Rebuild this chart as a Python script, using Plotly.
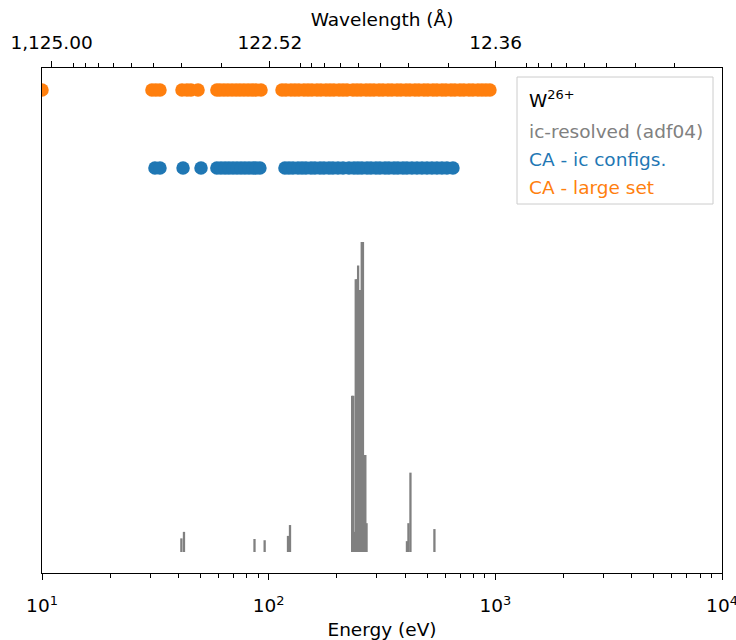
import plotly.graph_objects as go

# ---------------- data ----------------
HC = 12398.4  # eV * Angstrom

# ic-resolved (adf04) line strengths (arbitrary units, normalised)
bar_energy = [41.2, 42.3, 86.6, 96.0, 121.7, 124.2,
              233.5, 236.3, 239.2, 242.2, 245.1, 248.1, 251.2, 254.3, 257.4, 260.6,
              263.8, 267.0, 270.3,
              407.4, 413.7, 422.2, 538.6]
bar_height = [0.044, 0.065, 0.042, 0.038, 0.052, 0.087,
              0.504, 0.504, 0.065, 0.880, 0.880, 0.924, 0.845, 0.845, 1.000, 1.000,
              0.313, 0.313, 0.093,
              0.035, 0.093, 0.256, 0.074]

# CA - ic configs. (transition energies, eV)
ca_ic_energy = [31.5, 33.15, 41.9, 50.3,
                59.1, 61.6, 64.2, 66.8, 69.6, 72.5, 75.5, 78.6, 81.9, 85.3, 87.9, 91.5,
                118.0, 122.9, 128.0, 134.7, 140.3, 146.0, 153.7, 160.0, 168.4, 175.4,
                184.5, 192.1, 202.2, 212.8, 226.1, 237.9, 247.7, 257.9, 271.5, 282.7,
                297.4, 309.7, 326.0, 339.4, 357.1, 371.9, 391.2, 407.4, 428.7, 451.1,
                474.6, 499.4, 525.3, 552.5, 581.3, 611.5, 650.2]
ca_ic_level = 1.239

# CA - large set (transition energies, eV)
ca_large_energy = [10.0, 30.55, 31.8, 33.15, 41.45, 43.6, 45.4, 48.8,
                   59.1, 61.0, 63.5, 66.1, 68.9, 71.8, 74.7, 77.8, 81.1, 84.4, 87.9, 92.5,
                   114.5, 119.2, 125.4, 130.6, 136.0, 143.1, 149.1, 155.2, 163.3, 170.1,
                   178.9, 186.4, 194.1, 204.3, 212.8, 221.6, 235.5, 245.3, 255.5, 268.8,
                   279.9, 291.5, 306.7, 319.4, 336.0, 349.9, 368.2, 383.4, 403.4, 420.1,
                   441.9, 460.3, 484.2, 504.3, 530.5, 552.5, 581.3, 605.3, 637.0, 663.3,
                   698.1, 726.8, 764.9, 796.5, 838.0, 872.8, 908.8, 946.7]
ca_large_level = 1.490

# axis ticks
energy_ticks = [10, 100, 1000, 10000]
energy_labels = ["10<sup>1</sup>", "10<sup>2</sup>", "10<sup>3</sup>", "10<sup>4</sup>"]
wavelength_major = [1125.00, 122.52, 12.36]
wavelength_labels = ["1,125.00", "122.52", "12.36"]
minor_mult = [2, 3, 4, 5, 6, 7, 8, 9]
decades = [1, 10, 100, 1000]

legend_title = "W<sup>26+</sup>"
legend_labels = ["ic-resolved (adf04)", "CA - ic configs.", "CA - large set"]

# ---------------- styling ----------------
GREY = "#808080"
BLUE = "#1f77b4"
ORANGE = "#ff7f0e"
FONT = "DejaVu Sans"
FS = 18.5

W, H = 736, 640
L, R, T, B = 42, 722, 68, 573

def px_x(px):
    return (px - L) / (R - L)

def px_y(py):
    return (B - py) / (B - T)

# ---------------- figure ----------------
fig = go.Figure()

bx, by = [], []
for e, h in zip(bar_energy, bar_height):
    bx += [e, e, None]
    by += [0, h, None]
fig.add_trace(go.Scatter(x=bx, y=by, mode="lines",
                         line=dict(color=GREY, width=2.3), showlegend=False,
                         hoverinfo="skip"))

fig.add_trace(go.Scatter(x=ca_ic_energy, y=[ca_ic_level] * len(ca_ic_energy),
                         mode="markers", marker=dict(color=BLUE, size=13.5, line=dict(width=0)),
                         showlegend=False))
fig.add_trace(go.Scatter(x=ca_large_energy, y=[ca_large_level] * len(ca_large_energy),
                         mode="markers", marker=dict(color=ORANGE, size=13.5, line=dict(width=0)),
                         showlegend=False))

# invisible trace to activate the top axis
fig.add_trace(go.Scatter(x=[10, 10000], y=[0, 0], xaxis="x2", mode="markers",
                         marker=dict(opacity=0), showlegend=False, hoverinfo="skip"))

energy_minor = [m * d * 10 for d in decades[:3] for m in minor_mult]
wl_minor = [m * d for d in decades for m in minor_mult]
wl_minor_e = [HC / w for w in wl_minor if 10 <= HC / w <= 10000]
wl_major_e = [HC / w for w in wavelength_major]

fig.update_layout(
    width=W, height=H,
    margin=dict(l=L, r=W - R, t=T, b=H - B, autoexpand=False),
    plot_bgcolor="white", paper_bgcolor="white",
    font=dict(family=FONT, size=FS, color="black"),
    xaxis=dict(type="log", range=[1, 4], tickmode="array",
               tickvals=energy_ticks, ticktext=energy_labels,
               ticks="outside", ticklen=6, tickwidth=1.2, tickcolor="black",
               ticklabelstandoff=10, ticklabeloverflow="allow", automargin=False,
               showline=True, linecolor="black", linewidth=1.2, mirror=False,
               showgrid=False, zeroline=False,
               tickfont=dict(family=FONT, size=FS, color="black"),
               minor=dict(tickvals=energy_minor, ticks="outside", ticklen=3.5,
                          tickwidth=1, tickcolor="black", showgrid=False),
               title=dict(text="Energy (eV)", standoff=8,
                          font=dict(family=FONT, size=FS, color="black"))),
    xaxis2=dict(type="log", range=[1, 4], overlaying="x", side="top", anchor="y",
                tickmode="array", tickvals=wl_major_e, ticktext=wavelength_labels,
                ticks="outside", ticklen=6, tickwidth=1.2, tickcolor="black",
                ticklabelstandoff=5, ticklabeloverflow="allow", automargin=False,
                showline=True, linecolor="black", linewidth=1.2,
                showgrid=False, zeroline=False,
                tickfont=dict(family=FONT, size=FS, color="black"),
                minor=dict(tickvals=wl_minor_e, ticks="outside", ticklen=3.5,
                           tickwidth=1, tickcolor="black", showgrid=False),
                title=dict(text="Wavelength (Å)", standoff=0,
                           font=dict(family=FONT, size=FS, color="black"))),
    yaxis=dict(range=[-0.0677, 1.5613], showticklabels=False, ticks="",
               automargin=False,
               showline=True, linecolor="black", linewidth=1.2, mirror=True,
               showgrid=False, zeroline=False),
)

# legend box (text-only legend, as in the original)
fig.add_shape(type="rect", xref="paper", yref="paper",
              x0=px_x(517), x1=px_x(713), y0=px_y(204), y1=px_y(77),
              line=dict(color="#cccccc", width=1), fillcolor="rgba(255,255,255,0.8)",
              layer="above")
legend_rows = [(legend_title, "black", 99),
               (legend_labels[0], GREY, 131),
               (legend_labels[1], BLUE, 159),
               (legend_labels[2], ORANGE, 187)]
for txt, col, py in legend_rows:
    fig.add_annotation(x=px_x(527), y=px_y(py), xref="paper", yref="paper",
                       text=txt, showarrow=False, xanchor="left", yanchor="middle",
                       font=dict(family=FONT, size=FS, color=col))

fig.write_html("out.html", config={"displayModeBar": False},
               post_script="document.body.style.margin='0';document.body.style.overflow='hidden';")
